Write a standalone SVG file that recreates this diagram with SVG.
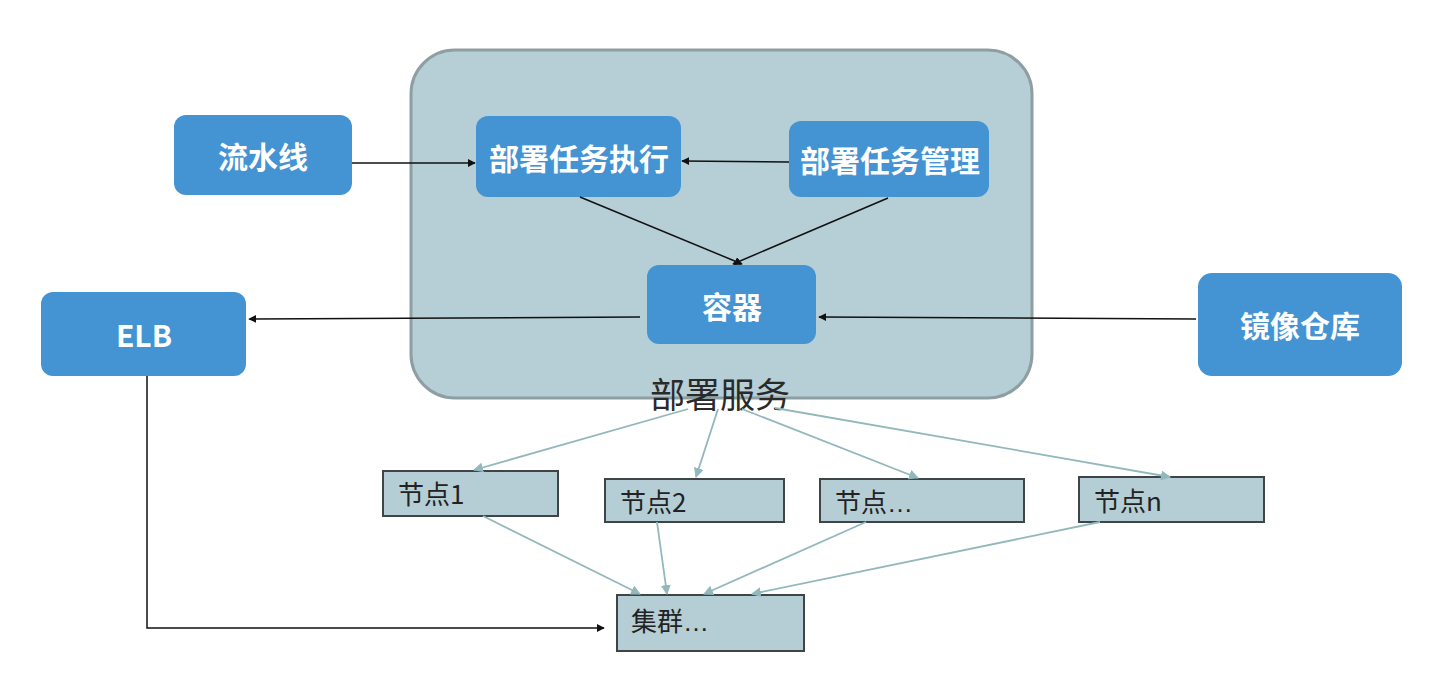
<svg xmlns="http://www.w3.org/2000/svg" width="1438" height="685" viewBox="0 0 1438 685">
<style>
.blue{fill:#4493d3;}
.bt{fill:#ffffff;font-family:"Noto Sans CJK SC","Liberation Sans",sans-serif;font-weight:bold;font-size:30px;text-anchor:middle;dominant-baseline:central;}
.nd{fill:#b5ced5;stroke:#3f4547;stroke-width:2;}
.nt{fill:#222;font-family:"Noto Sans CJK SC","Liberation Sans",sans-serif;font-size:26px;}
.lt{font-family:"Liberation Sans",sans-serif;}
.blk{stroke:#111;stroke-width:1.5;fill:none;marker-end:url(#ab);}
.tl{stroke:#93b8bb;stroke-width:1.8;fill:none;marker-end:url(#at);}
</style>
<defs>
<marker id="ab" viewBox="0 0 10 10" refX="9" refY="5" markerWidth="8" markerHeight="8" markerUnits="userSpaceOnUse" orient="auto"><path d="M0,0 L10,5 L0,10 z" fill="#111"/></marker>
<marker id="at" viewBox="0 0 10 10" refX="9" refY="5" markerWidth="10" markerHeight="10" markerUnits="userSpaceOnUse" orient="auto"><path d="M0,0 L10,5 L0,10 z" fill="#93b8bb"/></marker>
</defs>
<rect width="1438" height="685" fill="#ffffff"/>
<g id="deploy-service">
<rect x="411" y="50" width="621" height="348" rx="44" fill="#b6ced5" stroke="#8e9fa3" stroke-width="3"/>
<text x="720" y="392" font-family="'Noto Sans CJK SC','Liberation Sans',sans-serif" font-size="35" fill="#2a2a2a" text-anchor="middle" dominant-baseline="central">部署服务</text>
</g>
<g id="pipeline"><rect class="blue" x="174" y="115" width="178" height="80" rx="12"/><text class="bt" x="263" y="155">流水线</text></g>
<g id="exec"><rect class="blue" x="476" y="116" width="205" height="81" rx="12"/><text class="bt" x="579" y="157">部署任务执行</text></g>
<g id="mgmt"><rect class="blue" x="789" y="121" width="200" height="76" rx="12"/><text class="bt" x="890" y="159">部署任务管理</text></g>
<g id="container"><rect class="blue" x="647" y="265" width="169" height="79" rx="12"/><text class="bt" x="732" y="305">容器</text></g>
<g id="elb"><rect class="blue" x="41" y="292" width="205" height="84" rx="12"/><text class="bt" x="144" y="334">ELB</text></g>
<g id="registry"><rect class="blue" x="1198" y="273" width="204" height="103" rx="14"/><text class="bt" x="1300" y="324">镜像仓库</text></g>
<g id="node1"><rect class="nd" x="383" y="471" width="175" height="45"/><text class="nt" x="398" y="504">节点1</text></g>
<g id="node2"><rect class="nd" x="605" y="479" width="179" height="43"/><text class="nt" x="620" y="512">节点2</text></g>
<g id="node3"><rect class="nd" x="820" y="479" width="204" height="43"/><text class="nt" x="835" y="512">节点<tspan class="lt">…</tspan></text></g>
<g id="noden"><rect class="nd" x="1079" y="477" width="185" height="45"/><text class="nt" x="1094" y="511">节点n</text></g>
<g id="cluster"><rect class="nd" x="617" y="595" width="187" height="56"/><text class="nt" x="631" y="631">集群<tspan class="lt">…</tspan></text></g>
<g id="connectors">
<line class="blk" x1="352" y1="163" x2="475" y2="163"/>
<line class="blk" x1="789" y1="162" x2="682" y2="161"/>
<line class="blk" x1="580" y1="197" x2="742" y2="264"/>
<line class="blk" x1="888" y1="198" x2="733" y2="264"/>
<line class="blk" x1="640" y1="317" x2="249" y2="319"/>
<line class="blk" x1="1196" y1="319" x2="819" y2="317"/>
<polyline class="blk" points="147,376 147,628 604,628"/>
<line class="tl" x1="688" y1="409" x2="474" y2="470"/>
<line class="tl" x1="718" y1="409" x2="696" y2="477"/>
<line class="tl" x1="742" y1="409" x2="918" y2="478"/>
<line class="tl" x1="775" y1="408" x2="1170" y2="477"/>
<line class="tl" x1="483" y1="516" x2="640" y2="594"/>
<line class="tl" x1="657" y1="522" x2="667" y2="594"/>
<line class="tl" x1="866" y1="522" x2="704" y2="594"/>
<line class="tl" x1="1100" y1="522" x2="752" y2="594"/>
</g>
</svg>
